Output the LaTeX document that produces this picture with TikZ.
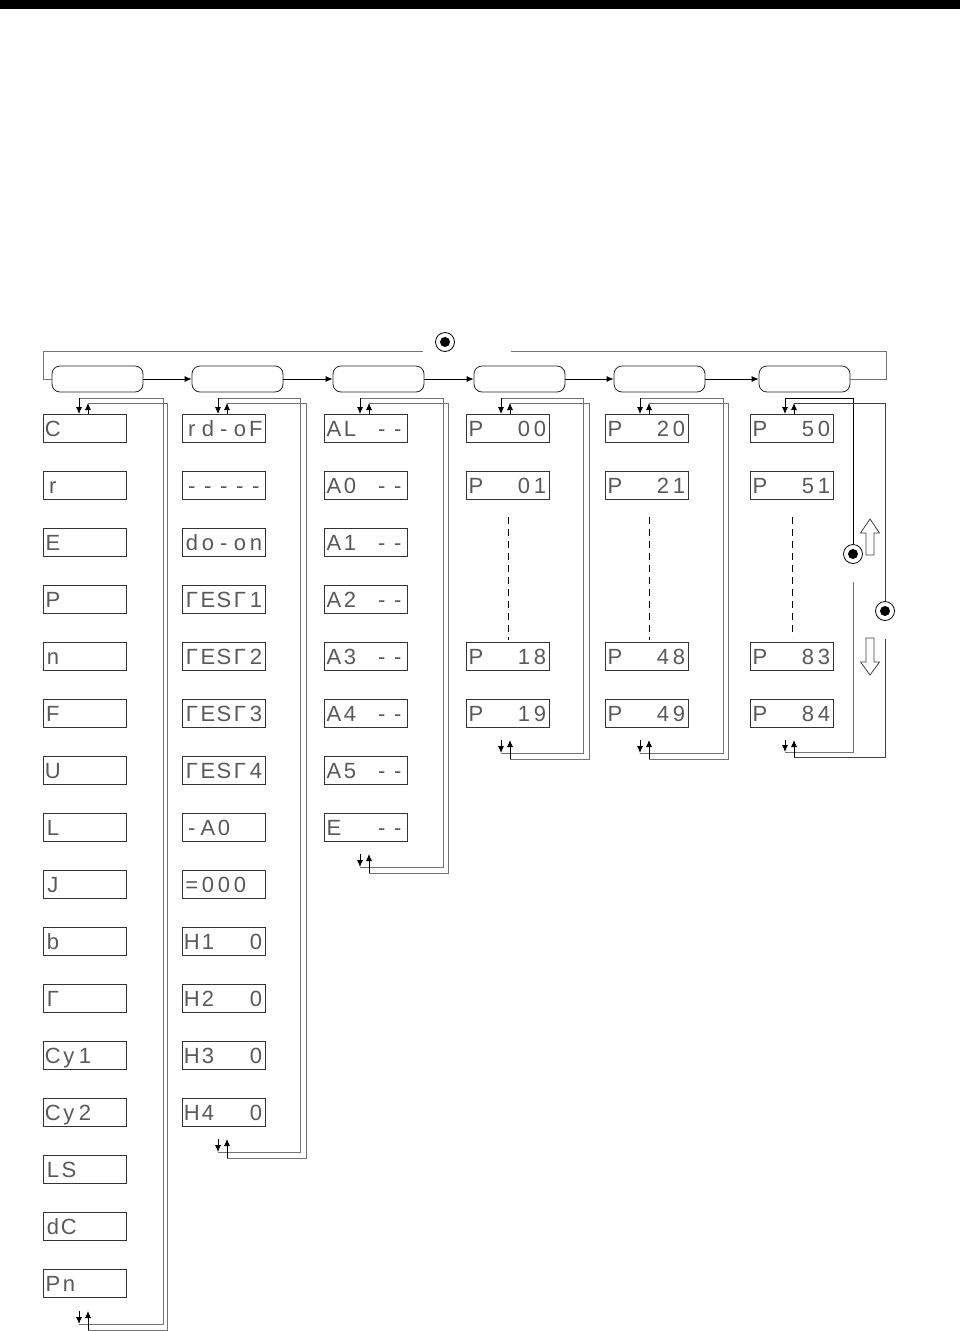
\documentclass[tikz,border=0pt]{standalone}
\usepackage{fontspec}
\newfontfamily\segfont{Liberation Sans}
\usetikzlibrary{arrows.meta}
\newcommand\segd[5]{\makebox[16pt]{#1}\makebox[16pt]{#2}\makebox[16pt]{#3}\makebox[16pt]{#4}\makebox[16pt]{#5}}
\begin{document}
\begin{tikzpicture}[x=1pt,y=-1pt,
  disp/.style={draw=black!80, line width=0.8pt, minimum width=83pt, minimum height=28pt, inner sep=0pt,
    text height=16pt, text depth=0pt, font=\segfont\fontsize{22}{22}\selectfont, text=black!65, anchor=west},
  mode/.style={draw=black!85, line width=0.8pt, rounded corners=8pt, minimum width=91pt, minimum height=26pt, inner sep=0pt},
  loopline/.style={draw=black!55, line width=0.8pt},
  darkline/.style={draw=black, line width=0.8pt},
  arr/.style={-{Latex[length=7pt,width=6pt]}, line width=0.8pt, black},
  btn/.style={circle, draw, line width=0.8pt, minimum size=19pt, inner sep=0pt,
    path picture={\fill (path picture bounding box.center) circle (5pt);}},
  hollow/.style={draw=black!75, line width=0.8pt, fill=white},
  dots/.style={draw=black, line width=0.8pt, dash pattern=on 7pt off 5pt},
]
\useasboundingbox (0,0) rectangle (960,1331);
\fill[black] (0,0) rectangle (960,9);

% mode boxes
\node[mode] (m1) at (97.5,379) {};
\node[mode] (m2) at (237.5,379) {};
\node[mode] (m3) at (378.5,379) {};
\node[mode] (m4) at (519.5,379) {};
\node[mode] (m5) at (659.5,379) {};
\node[mode] (m6) at (804.5,379) {};
\foreach \a/\b in {m1/m2,m2/m3,m3/m4,m4/m5,m5/m6}
  \draw[arr] (\a.east) -- (\b.west);

% top loop with button
\node[btn] (tb) at (445,342) {};
\coordinate (tl) at (423,351);
\coordinate (tr) at (511,351);
\draw[loopline] (m1.west) -- (43,379) -- (43,351) -- (tl);
\draw[loopline] (tr) -- (886,351) -- (886,379) -- (m6.east);

% column 1
\node[disp] (a0)  at (43,428)  {\segd{C}{}{}{}{}};
\node[disp] (a1)  at (43,485)  {\segd{r}{}{}{}{}};
\node[disp] (a2)  at (43,542)  {\segd{E}{}{}{}{}};
\node[disp] (a3)  at (43,599)  {\segd{P}{}{}{}{}};
\node[disp] (a4)  at (43,656)  {\segd{n}{}{}{}{}};
\node[disp] (a5)  at (43,713)  {\segd{F}{}{}{}{}};
\node[disp] (a6)  at (43,770)  {\segd{U}{}{}{}{}};
\node[disp] (a7)  at (43,827)  {\segd{L}{}{}{}{}};
\node[disp] (a8)  at (43,884)  {\segd{J}{}{}{}{}};
\node[disp] (a9)  at (43,941)  {\segd{b}{}{}{}{}};
\node[disp] (a10) at (43,998)  {\segd{Γ}{}{}{}{}};
\node[disp] (a11) at (43,1055) {\segd{C}{y}{1}{}{}};
\node[disp] (a12) at (43,1112) {\segd{C}{y}{2}{}{}};
\node[disp] (a13) at (43,1169) {\segd{L}{S}{}{}{}};
\node[disp] (a14) at (43,1226) {\segd{d}{C}{}{}{}};
\node[disp] (a15) at (43,1283) {\segd{P}{n}{}{}{}};

% column 2
\node[disp] (b0)  at (182,428)  {\segd{r}{d}{-}{o}{F}};
\node[disp] (b1)  at (182,485)  {\segd{-}{-}{-}{-}{-}};
\node[disp] (b2)  at (182,542)  {\segd{d}{o}{-}{o}{n}};
\node[disp] (b3)  at (182,599)  {\segd{Γ}{E}{S}{Γ}{1}};
\node[disp] (b4)  at (182,656)  {\segd{Γ}{E}{S}{Γ}{2}};
\node[disp] (b5)  at (182,713)  {\segd{Γ}{E}{S}{Γ}{3}};
\node[disp] (b6)  at (182,770)  {\segd{Γ}{E}{S}{Γ}{4}};
\node[disp] (b7)  at (182,827)  {\segd{-}{A}{0}{}{}};
\node[disp] (b8)  at (182,884)  {\segd{=}{0}{0}{0}{}};
\node[disp] (b9)  at (182,941)  {\segd{H}{1}{}{}{0}};
\node[disp] (b10) at (182,998)  {\segd{H}{2}{}{}{0}};
\node[disp] (b11) at (182,1055) {\segd{H}{3}{}{}{0}};
\node[disp] (b12) at (182,1112) {\segd{H}{4}{}{}{0}};

% column 3
\node[disp] (c0) at (324,428) {\segd{A}{L}{}{-}{-}};
\node[disp] (c1) at (324,485) {\segd{A}{0}{}{-}{-}};
\node[disp] (c2) at (324,542) {\segd{A}{1}{}{-}{-}};
\node[disp] (c3) at (324,599) {\segd{A}{2}{}{-}{-}};
\node[disp] (c4) at (324,656) {\segd{A}{3}{}{-}{-}};
\node[disp] (c5) at (324,713) {\segd{A}{4}{}{-}{-}};
\node[disp] (c6) at (324,770) {\segd{A}{5}{}{-}{-}};
\node[disp] (c7) at (324,827) {\segd{E}{}{}{-}{-}};

% columns 4-6
\node[disp] (d0) at (466,428) {\segd{P}{}{}{0}{0}};
\node[disp] (d1) at (466,485) {\segd{P}{}{}{0}{1}};
\node[disp] (d2) at (466,656) {\segd{P}{}{}{1}{8}};
\node[disp] (d3) at (466,713) {\segd{P}{}{}{1}{9}};
\node[disp] (e0) at (605,428) {\segd{P}{}{}{2}{0}};
\node[disp] (e1) at (605,485) {\segd{P}{}{}{2}{1}};
\node[disp] (e2) at (605,656) {\segd{P}{}{}{4}{8}};
\node[disp] (e3) at (605,713) {\segd{P}{}{}{4}{9}};
\node[disp] (f0) at (750,428) {\segd{P}{}{}{5}{0}};
\node[disp] (f1) at (750,485) {\segd{P}{}{}{5}{1}};
\node[disp] (f2) at (750,656) {\segd{P}{}{}{8}{3}};
\node[disp] (f3) at (750,713) {\segd{P}{}{}{8}{4}};

% dashed continuation lines
\draw[dots] (508,517) -- (508,640);
\draw[dots] (649,517) -- (649,640);
\draw[dots] (792,517) -- (792,637);

% column loops (columns 1-5)
\foreach \d/\xi/\xo/\B in {79/163/167/1298, 218/300/306/1126, 360/443/448/841, 501/583/589/727, 640/723/728/727}{
  \pgfmathsetmacro\u{\d+9}
  \pgfmathsetmacro\bi{\B+26}
  \pgfmathsetmacro\bo{\B+32}
  \pgfmathsetmacro\bt{\B+13}
  \draw[loopline] (\d,398) -- (\xi,398) -- (\xi,\bi) -- (\d,\bi);
  \draw[loopline] (\u,403) -- (\xo,403) -- (\xo,\bo) -- (\u,\bo);
  \draw[arr] (\d,398) -- (\d,414);
  \draw[arr] (\u,414) -- (\u,403);
  \draw[arr] (\d,\bt) -- (\d,\bi);
  \draw[arr] (\u,\bo) -- (\u,\bt);
}

% column 6 loop with buttons
\node[btn] (bu) at (853,554) {};
\node[btn] (bd) at (885,611) {};
\draw[darkline] (785,398) -- (853,398) -- (bu.north);
\draw[loopline] (853,582) -- (853,752) -- (785,752);
\draw[darkline, draw=black!75] (794,403) -- (885,403) -- (bd.north);
\draw[darkline, draw=black!75] (885,639) -- (885,757) -- (794,757);
\draw[arr] (785,398) -- (785,414);
\draw[arr] (794,414) -- (794,403);
\draw[arr] (785,740) -- (785,752);
\draw[arr] (794,757) -- (794,740);

% hollow up / down arrows
\draw[hollow] (866,555) -- (866,533) -- (860.5,533) -- (870,519) -- (879.5,533) -- (874,533) -- (874,555) -- cycle;
\draw[hollow] (866,638) -- (866,662) -- (860.5,662) -- (870,675) -- (879.5,662) -- (874,662) -- (874,638) -- cycle;
\end{tikzpicture}
\end{document}
